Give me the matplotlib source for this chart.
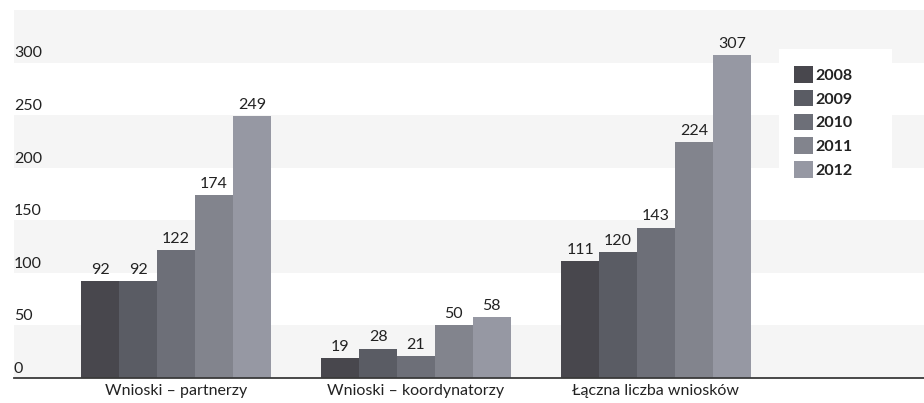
import numpy as np
import matplotlib.pyplot as plt
from matplotlib.patches import Patch, Rectangle
from matplotlib.transforms import offset_copy

plt.rcParams['font.family'] = ['Lato', 'DejaVu Sans']

# dane
kategorie = ["Wnioski – partnerzy", "Wnioski – koordynatorzy", "Łączna liczba wniosków"]
lata = ["2008", "2009", "2010", "2011", "2012"]
wartosci = {
    "2008": [92, 19, 111],
    "2009": [92, 28, 120],
    "2010": [122, 21, 143],
    "2011": [174, 50, 224],
    "2012": [249, 58, 307],
}
kolory = ["#48474d", "#5a5c64", "#6d6f78", "#82848d", "#9698a3"]
yticks = [0, 50, 100, 150, 200, 250, 300]

fig = plt.figure(figsize=(9.24, 4.03), dpi=100)
ax = fig.add_axes([14/924, 1-378/403, 1-14/924, (378-10)/403])

x = np.arange(len(kategorie))
w = 0.158
ymax = 350

# pasy tła
for lo in range(0, ymax, 100):
    ax.axhspan(lo, lo+50, color="#f5f5f5", zorder=0, lw=0)

for i, rok in enumerate(lata):
    pos = x + (i-2)*w
    ax.bar(pos, wartosci[rok], width=w, color=kolory[i], zorder=2)
    for px, v in zip(pos, wartosci[rok]):
        ax.annotate(str(v), (px, v), xytext=(0, 3), textcoords="offset points",
                    ha="center", va="bottom", fontsize=11.5, color="#222222")

ax.set_xlim(-0.675, 3.117)
ax.set_ylim(0, ymax)

# etykiety osi y w środku wykresu
tr = offset_copy(ax.get_yaxis_transform(), fig=fig, x=0, y=1.5, units="points")
for t in yticks:
    ax.text(0, t, str(t), transform=tr, ha="left", va="bottom", fontsize=11.5, color="#222222")

ax.set_yticks([])
ax.set_xticks(x)
ax.set_xticklabels(kategorie, fontsize=11.5, color="#222222")
ax.tick_params(axis="x", length=0, pad=4)
for s in ["top", "right", "left"]:
    ax.spines[s].set_visible(False)
ax.spines["bottom"].set_color("#3a3a3a")
ax.spines["bottom"].set_linewidth(1.3)
ax.spines["bottom"].set_zorder(3)

# białe tło legendy
fig.patches.append(Rectangle((779/924, 1-200/403), 113/924, 151/403,
                             transform=fig.transFigure, facecolor="white", edgecolor="none", zorder=1))

uchwyty = [Patch(facecolor=k, label=r) for k, r in zip(kolory, lata)]
leg = fig.legend(handles=uchwyty, loc="upper left", bbox_to_anchor=(783/924, 1-55/403),
                 frameon=False, handlelength=1.2, handleheight=1.2, handletextpad=0.15,
                 labelspacing=0.45, borderpad=0.2, prop={"weight": "bold", "size": 11.5})
for t in leg.get_texts():
    t.set_color("#222222")

fig.savefig("out.png", dpi=100, facecolor="white")
